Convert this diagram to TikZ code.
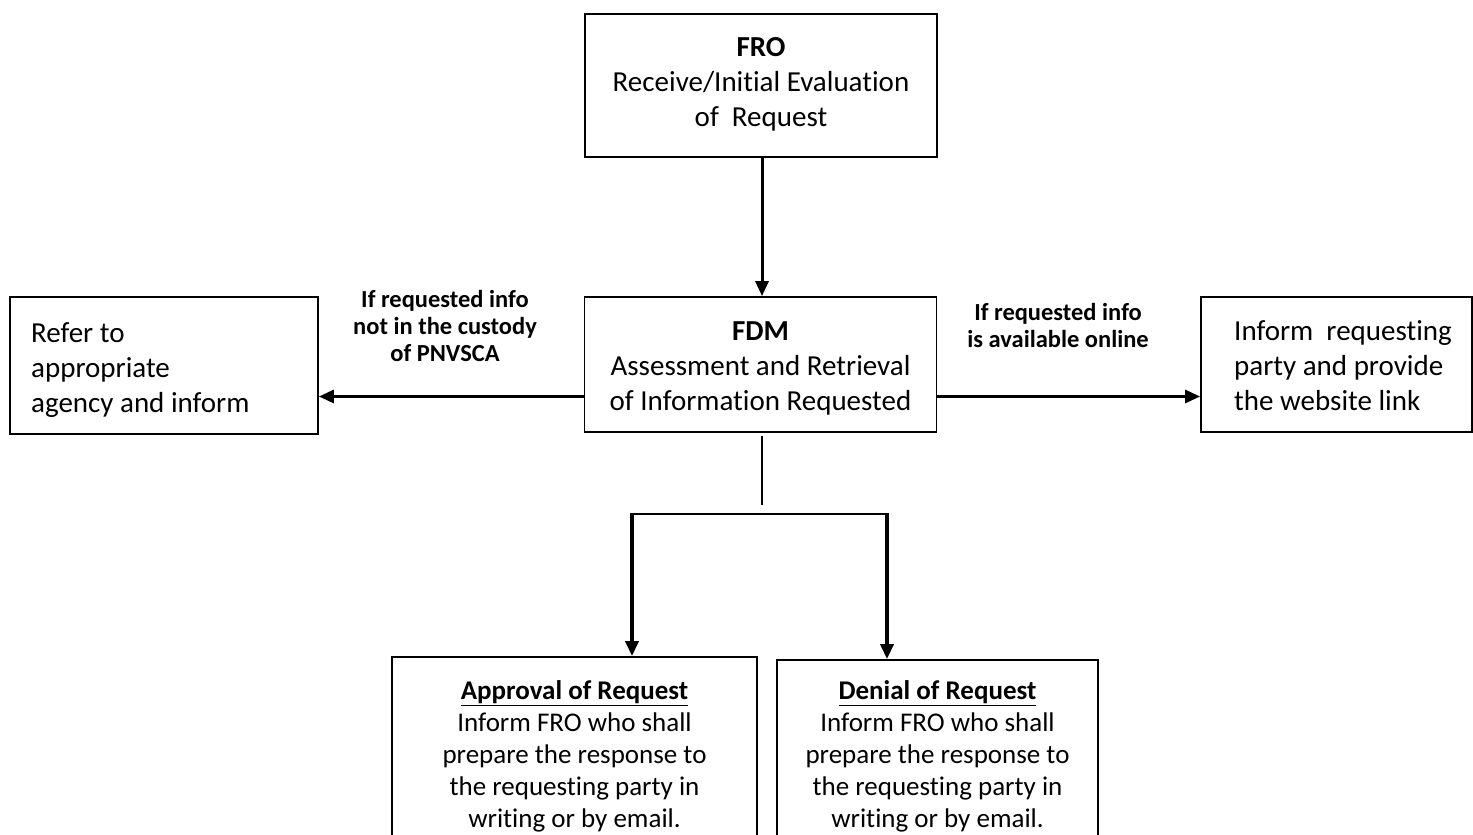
\documentclass[tikz,border=0pt]{standalone}
\usepackage{fontspec}
\setmainfont[Ligatures=NoCommon]{Carlito}
\usetikzlibrary{arrows.meta,calc}
\begin{document}
\begin{tikzpicture}[x=1pt,y=-1pt,
  box/.style={draw=black,line width=1.8pt,inner sep=0pt},
  txt/.style={inner sep=0pt,align=center,font=\fontsize{29}{35}\selectfont},
  ltxt/.style={txt,align=left},
  btxt/.style={txt,font=\fontsize{27}{32}\selectfont},
  lbl/.style={align=center,inner sep=0pt,font=\fontsize{24.5}{27}\selectfont\bfseries},
  arr/.style={line width=3pt,-{Triangle[length=15pt,width=13pt]}},
  thin/.style={line width=2pt}]
\useasboundingbox (0,0) rectangle (1473,835);
% boxes
\node[box,minimum width=352pt,minimum height=143pt] (fro) at (761,85.5) {};
\node[box,minimum width=352pt,minimum height=135pt] (fdm) at (760.5,364.5) {};
\node[box,minimum width=308pt,minimum height=137pt] (left) at (164,365.5) {};
\node[box,minimum width=271pt,minimum height=135pt] (right) at (1336.5,364.5) {};
\node[box,minimum width=365pt,minimum height=206pt] (appr) at (574.5,760) {};
\node[box,minimum width=321pt,minimum height=200pt] (deny) at (937.5,760) {};
% texts
\node[txt] (frot) at (761,84) {\textbf{FRO}\\Receive/Initial Evaluation\\of~ Request};
\node[txt] (fdmt) at (760.5,368) {\textbf{FDM}\\Assessment and Retrieval\\of Information Requested};
\node[ltxt,anchor=west] (leftt) at (31,370) {Refer to\\appropriate\\agency and inform};
\node[ltxt,anchor=west] (rightt) at (1234,366) {Inform~ requesting\\party and provide\\the website link};
\node[btxt] (apprt) at (574.5,756) {\textbf{\underline{Approval of Request}}\\Inform FRO who shall\\prepare the response to\\the requesting party in\\writing or by email.};
\node[btxt] (denyt) at (937.5,756) {\textbf{\underline{Denial of Request}}\\Inform FRO who shall\\prepare the response to\\the requesting party in\\writing or by email.};
\node[lbl] (llbl) at (445,326) {If requested info\\not in the custody\\of PNVSCA};
\node[lbl] (rlbl) at (1058,325) {If requested info\\is available online};
% connectors
\draw[arr] ([xshift=1pt]fro.south) -- ([xshift=1pt]fro.south |- fdm.north);
\draw[arr] ([yshift=-32pt]fdm.west) -- ([yshift=-32pt]fdm.west -| left.east);
\draw[arr] ([yshift=-32pt]fdm.east) -- ([yshift=-32pt]fdm.east -| right.west);
\coordinate (stem) at (762,505);
\coordinate (bl) at (632,514);
\coordinate (br) at (887,514);
\draw[thin] ([xshift=1.5pt,yshift=-3pt]fdm.south) -- (stem);
\draw[thin] (bl) -- (br);
\draw[arr,line width=3.5pt] ([yshift=1pt]bl) -- (bl |- appr.north);
\draw[arr,line width=3.5pt] ([yshift=1pt]br) -- (br |- deny.north);
\end{tikzpicture}
\end{document}
